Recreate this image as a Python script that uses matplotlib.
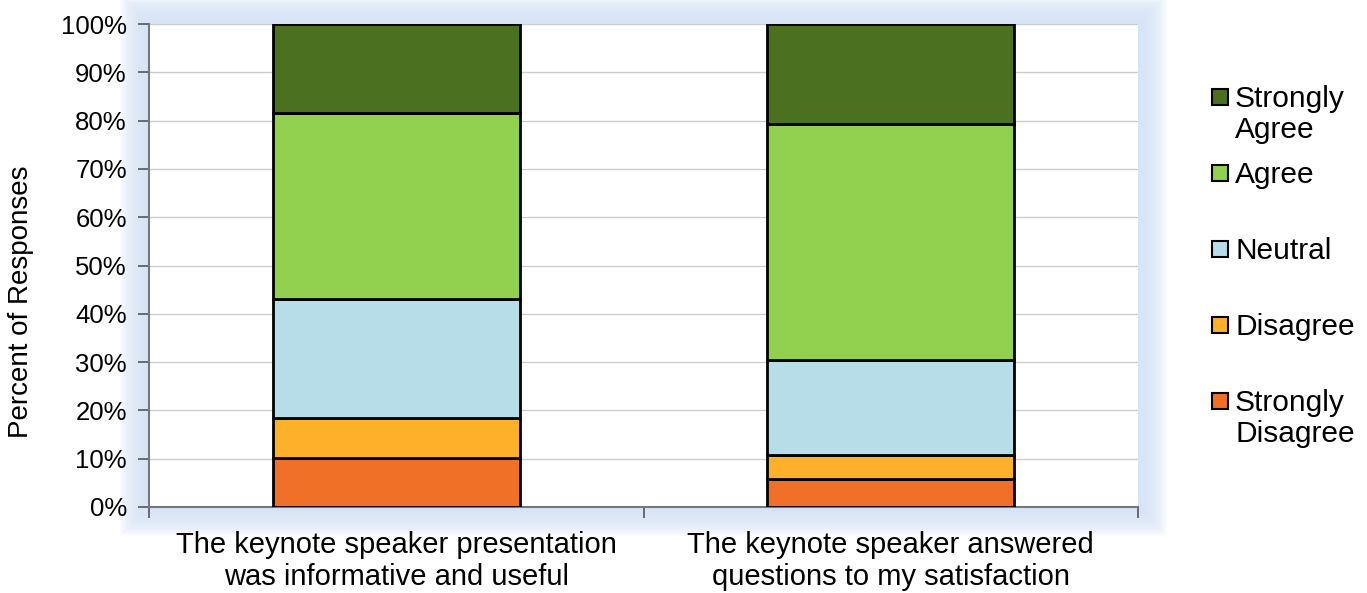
import numpy as np
import matplotlib.pyplot as plt
from matplotlib.patches import Rectangle

plt.rcParams['font.family'] = ['Liberation Sans', 'DejaVu Sans']

questions = ["The keynote speaker presentation\nwas informative and useful",
             "The keynote speaker answered\nquestions to my satisfaction"]
levels = ["Strongly\nDisagree", "Disagree", "Neutral", "Agree", "Strongly\nAgree"]
colors = ["#f07028", "#fdb12a", "#b7dde8", "#92d050", "#4a7020"]

strongly_disagree = [10.1, 5.8]
disagree = [8.3, 5.0]
neutral = [24.7, 19.6]
agree = [38.5, 48.9]
strongly_agree = [18.4, 20.7]
series = [strongly_disagree, disagree, neutral, agree, strongly_agree]

W, H = 1367, 593
fig = plt.figure(figsize=(W / 100, H / 100), dpi=100)
ax = fig.add_axes([149 / W, (H - 507) / H, (1138 - 149) / W, 483 / H])
ax.set_zorder(2)

# soft blue glow around the plot area
pos = ax.get_position()
for i in range(16, 0, -1):
    px = i * 1.8
    fig.patches.append(Rectangle((pos.x0 - px / W, pos.y0 - px / H),
                                 pos.width + 2 * px / W, pos.height + 2 * px / H,
                                 transform=fig.transFigure, color="#d6e4f7",
                                 alpha=0.14, lw=0, zorder=-1))

x = np.arange(len(questions))
bottom = np.zeros(len(questions))
for vals, col in zip(series, colors):
    ax.bar(x, vals, 0.5, bottom=bottom, color=col, edgecolor="black", linewidth=2, zorder=3)
    bottom += np.array(vals)

ax.set_xlim(-0.5, 1.5)
ax.set_ylim(0, 100)
ax.set_yticks(np.arange(0, 101, 10))
ax.set_yticklabels([f"{v}%" for v in range(0, 101, 10)], fontsize=18.5)
ax.yaxis.grid(True, color="#cccccc", linewidth=1, zorder=0)
ax.set_axisbelow(True)
ax.tick_params(axis="y", length=8, color="#555555", width=1.2, pad=8)

ax.set_xticks([-0.5, 0.5, 1.5])
ax.set_xticklabels([])
ax.set_xticks(x, minor=True)
ax.set_xticklabels(questions, minor=True, fontsize=21, linespacing=1.2)
ax.tick_params(axis="x", which="major", length=8, color="#555555", width=1.2)
ax.tick_params(axis="x", which="minor", length=0, pad=17)

ax.set_ylabel("Percent of Responses", fontsize=20)
ax.yaxis.set_label_coords(-0.116, 0.424)

for side in ["top", "right"]:
    ax.spines[side].set_visible(False)
for side in ["left", "bottom"]:
    ax.spines[side].set_color("#777777")
    ax.spines[side].set_linewidth(1.5)
ax.set_facecolor("white")

# legend, handles aligned with first text line, top entry first
for i, (lab, col) in enumerate(zip(levels[::-1], colors[::-1])):
    yc = 97 + 76 * i
    fig.patches.append(Rectangle((1212 / W, 1 - (yc + 8) / H), 16 / W, 16 / H,
                                 transform=fig.transFigure, facecolor=col,
                                 edgecolor="black", lw=1.5))
    fig.text(1235 / W, 1 - (yc - 12) / H, lab, fontsize=21.5, va="top", ha="left",
             linespacing=1.15)

fig.savefig("out.png", dpi=100)
